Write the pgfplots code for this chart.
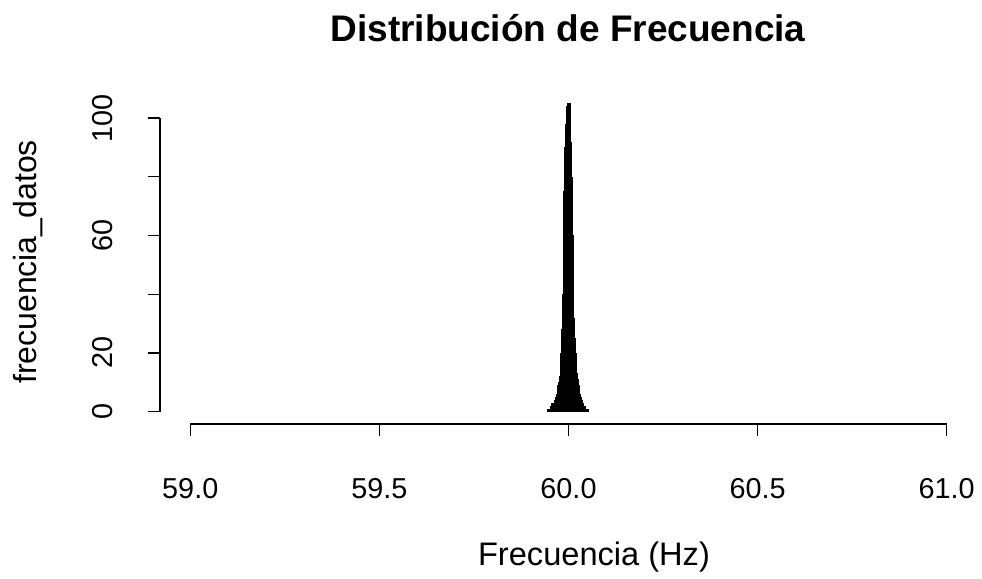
\documentclass[border=0pt]{standalone}
\usepackage{pgfplots}
\pgfplotsset{compat=1.18}
\usepackage{fontspec}
\setmainfont{Liberation Sans}
\begin{document}
\begin{tikzpicture}[x=1pt,y=1pt]
\begin{axis}[name=ax, at={(80pt,77.5pt)}, anchor=south west,
  scale only axis, width=408.5pt, height=166.5pt,
  xmin=58.92, xmax=61.08, ymin=-4.2, ymax=109.2,
  axis line style={draw=none}, clip=false,
  axis x line*=bottom, axis y line*=left,
  xtick={59,59.5,60,60.5,61}, xticklabels={59.0,59.5,60.0,60.5,61.0},
  ytick={0,20,40,60,80,100}, yticklabels={0,20,,60,,100},
  tick align=outside, major tick length=6pt,
  tick style={black, line width=0.6pt},
  /pgf/number format/assume math mode=true,
  ticklabel style={font=\fontsize{14.4}{17}\selectfont},
  xticklabel style={yshift=-17.5pt},
  yticklabel style={rotate=90, anchor=south, yshift=14pt},
]
\addplot[ycomb, black, line width=2pt, mark=none] coordinates {
(59.948,1)(59.950,1)(59.952,1)(59.954,1)(59.956,2)(59.958,1)(59.960,3)(59.962,2)(59.964,3)(59.966,3)(59.968,4)(59.970,5)(59.972,6)(59.974,7)(59.976,9)(59.978,10)(59.980,12)(59.982,15)(59.984,20)(59.986,28)(59.988,40)(59.990,55)(59.992,75)(59.994,90)(59.996,98)(59.998,104)(60.000,105)(60.002,100)(60.004,92)(60.006,80)(60.008,60)(60.010,45)(60.012,32)(60.014,25)(60.016,20)(60.018,16)(60.020,13)(60.022,11)(60.024,9)(60.026,7)(60.028,6)(60.030,5)(60.032,4)(60.034,3)(60.036,3)(60.038,2)(60.040,2)(60.042,2)(60.044,1)(60.046,1)(60.048,1)(60.050,1)};
\draw[line width=0.6pt] (axis cs:59,-4.2) -- (axis cs:61,-4.2);
\draw[line width=0.6pt] (axis cs:58.92,0) -- (axis cs:58.92,100);
\end{axis}
\node[font=\bfseries\fontsize{18.5}{22}\selectfont] at (284pt,275.5pt) {Distribución de Frecuencia};
\node[font=\fontsize{16.3}{19}\selectfont] at (297pt,11pt) {Frecuencia (Hz)};
\node[font=\fontsize{16}{19}\selectfont, rotate=90] at (14pt,158.5pt) {frecuencia\_datos};
\path[use as bounding box] (0,0) rectangle (491pt,289.5pt);
\end{tikzpicture}
\end{document}
